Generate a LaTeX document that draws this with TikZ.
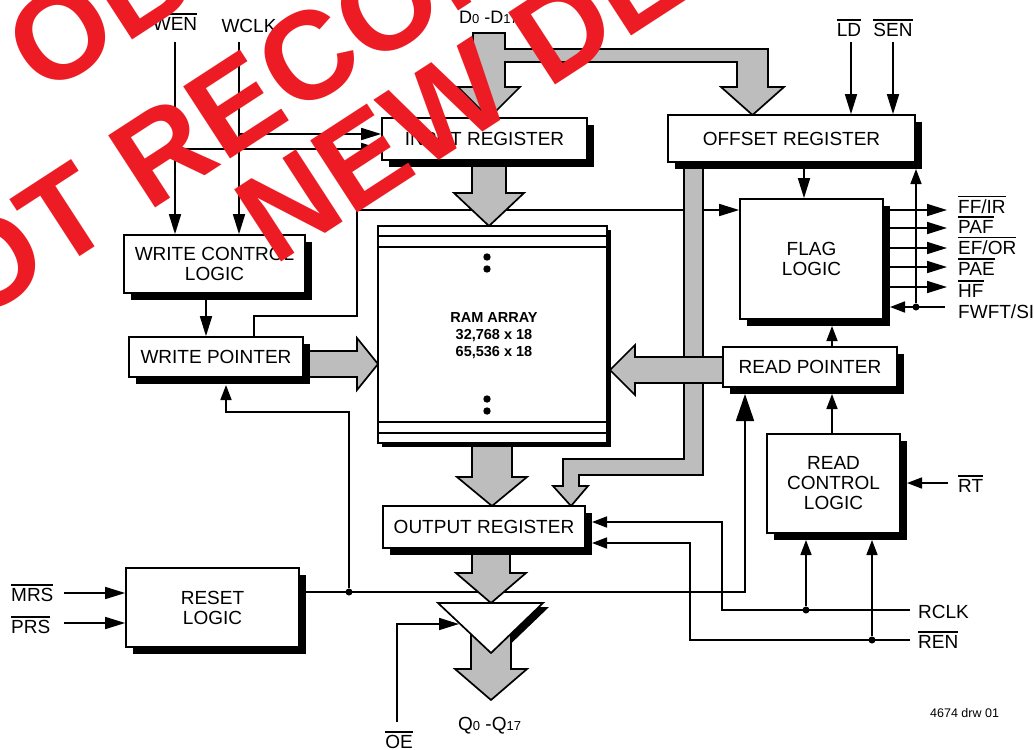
\documentclass[tikz,border=0pt]{standalone}
\usepackage{fontspec}
\setmainfont{Liberation Sans}
\usetikzlibrary{arrows.meta,shadows}
\definecolor{wm}{RGB}{237,28,36}
\definecolor{busgray}{gray}{0.74}
\newcommand{\ovl}[1]{\vbox{\hrule height 1.3pt\kern 2.2pt\hbox{#1}}}
\newcommand{\sdig}[1]{{\fontsize{13}{13}\selectfont #1}}
\pgfdeclarelayer{under}
\pgfdeclarelayer{buslayer}
\pgfsetlayers{under,buslayer,main}
\begin{document}
\begin{tikzpicture}[x=1pt,y=-1pt,
  boxbase/.style={draw, fill=white, line width=1.7pt, inner sep=0pt, align=center,
    font=\fontsize{19}{20}\selectfont},
  box/.style={boxbase, drop shadow={shadow xshift=7pt, shadow yshift=-7pt, fill=black, opacity=1}},
  wire/.style={line width=1.7pt},
  arr/.style={wire, -{Triangle[length=20pt,width=12pt]}},
  arrs/.style={wire, -{Triangle[length=15pt,width=11pt]}},
  bigarr/.style={wire, -{Triangle[length=27pt,width=18pt]}},
  bus/.style={draw, line width=1.7pt, fill=busgray, line join=miter},
  lab/.style={font=\fontsize{19}{20}\selectfont, inner sep=0pt},
  jdot/.style={circle, fill=black, inner sep=0pt, minimum size=7pt},
  wmark/.style={text=wm, font=\bfseries\fontsize{125}{125}\selectfont, inner sep=0pt}]

\useasboundingbox (0,0) rectangle (1034,750);

% ---------------- boxes ----------------
\node[box, minimum width=205pt, minimum height=42pt] (inreg) at (484.5,139) {INPUT REGISTER};
\node[box, minimum width=247pt, minimum height=47pt] (offreg) at (791.5,138.5) {OFFSET REGISTER};
\node[box, minimum width=143pt, minimum height=120pt] (flag) at (811.5,259) {FLAG\\LOGIC};
\node[box, minimum width=174pt, minimum height=40pt] (rdptr) at (810,367) {READ POINTER};
\node[box, minimum width=133pt, minimum height=99pt] (rdctl) at (833.5,483.5) {READ\\CONTROL\\LOGIC};
\node[box, minimum width=181pt, minimum height=58pt] (wrctl) at (214.5,264) {WRITE CONTROL\\LOGIC};
\node[box, minimum width=174pt, minimum height=40pt] (wrptr) at (216,357) {WRITE POINTER};
\node[boxbase, drop shadow={shadow xshift=4pt, shadow yshift=-4pt, fill=black, opacity=1},
      minimum width=229pt, minimum height=217pt] (ram) at (492.5,334.5) {};
\node[box, minimum width=202pt, minimum height=42pt] (outreg) at (484,527) {OUTPUT REGISTER};
\node[box, minimum width=173pt, minimum height=79pt] (reset) at (212.5,607.5) {RESET\\LOGIC};

% RAM array details
\foreach \yy in {236,247,422,433}
  \draw[wire] (ram.west |- 0,\yy) -- (ram.east |- 0,\yy);
\foreach \yy in {257,269,399,411}
  \fill (487,\yy) circle (3.7);
\node[font=\bfseries\fontsize{14.5}{17}\selectfont, align=center, inner sep=0pt] (ramtxt) at (494,336)
  {RAM ARRAY\\32,768 x 18\\65,536 x 18};

% ---------------- labels ----------------
\node[lab, anchor=base] (wenL) at (175,30) {\ovl{WEN}};
\node[lab, anchor=base] (wclkL) at (249,32) {WCLK};
\node[lab, anchor=base west, font=\fontsize{18}{18}\selectfont] (dL) at (459,23) {D\sdig{0} -D\sdig{17}};
\node[lab, anchor=base] (ldL) at (849,36) {\ovl{LD}};
\node[lab, anchor=base] (senL) at (893,36) {\ovl{SEN}};
\node[lab, anchor=base west] (ffL) at (958,213) {\ovl{FF/IR}};
\node[lab, anchor=base west] (pafL) at (958,233) {\ovl{PAF}};
\node[lab, anchor=base west] (efL) at (958,254) {\ovl{EF/OR}};
\node[lab, anchor=base west] (paeL) at (958,275) {\ovl{PAE}};
\node[lab, anchor=base west] (hfL) at (958,297) {\ovl{HF}};
\node[lab, anchor=base west] (fwL) at (958,318) {FWFT/SI};
\node[lab, anchor=base west] (rtL) at (958,492) {\ovl{RT}};
\node[lab, anchor=base west] (rclkL) at (918,618) {RCLK};
\node[lab, anchor=base west] (renL) at (918,648) {\ovl{REN}};
\node[lab, anchor=base west] (mrsL) at (11,601) {\ovl{MRS}};
\node[lab, anchor=base west] (prsL) at (11,633) {\ovl{PRS}};
\node[lab, anchor=base] (oeL) at (399,748) {\ovl{OE}};
\node[lab, anchor=base west] (qL) at (458,730) {Q\sdig{0} -Q\sdig{17}};
\node[lab, anchor=base west, font=\fontsize{12.5}{13}\selectfont] (drw) at (930,717) {4674 drw 01};

% ---------------- wires under buses ----------------
\begin{pgfonlayer}{under}
\draw[arr] (wrptr.north -| 254,0) |- (357,316) |- (flag.west |- 0,210);
\draw[bigarr] (reset.east |- 0,592) -| (745,394);
\end{pgfonlayer}

% ---------------- buses ----------------
\begin{pgfonlayer}{buslayer}
\draw[bus] (473,33) -- (505,33) -- (505,49) -- (768,49) -- (768,87) -- (784,87) -- (752.5,115)
  -- (721,87) -- (737,87) -- (737,62) -- (505,62) -- (505,87) -- (520,87) -- (489,118)
  -- (458,87) -- (473,87) -- cycle;
\draw[bus] (472,160) -- (506,160) -- (506,193) -- (524,193) -- (489,226) -- (454,193) -- (472,193) -- cycle;
\draw[bus] (472,443) -- (512,443) -- (512,477) -- (527,477) -- (492,506) -- (457,477) -- (472,477) -- cycle;
\draw[bus] (472,548) -- (510,548) -- (510,573) -- (526,573) -- (491,603) -- (456,573) -- (472,573) -- cycle;
\draw[bus] (303,351) -- (357,351) -- (357,338) -- (378,364) -- (357,390) -- (357,377) -- (303,377) -- cycle;
\draw[bus] (684,165) -- (703,165) -- (703,475) -- (579,475) -- (579,486) -- (588,486) -- (571,506)
  -- (553,486) -- (563,486) -- (563,459) -- (684,459) -- cycle;
\draw[bus] (723,357) -- (635,357) -- (635,345) -- (610,370) -- (635,395) -- (635,383) -- (723,383) -- cycle;
% output buffer
\fill[black] (444,607) -- (549,607) -- (497,657) -- cycle;
\draw[bus] (471,625) -- (511,625) -- (511,669) -- (527,669) -- (491,700) -- (455,669) -- (471,669) -- cycle;
\draw[line width=1.7pt, fill=white, line join=miter] (438,603) -- (543,603) -- (491,653) -- cycle;
\end{pgfonlayer}
\coordinate (oeTip) at (459,624);

% ---------------- wires ----------------
\coordinate (wenT) at (175,42);
\coordinate (wclkT) at (239,42);
\draw[arr] (wenT) -- (wenT |- wrctl.north);
\draw[arr] (wclkT) -- (wclkT |- wrctl.north);
\draw[arr] (wclkT |- 0,134) -- (inreg.west |- 0,134);
\draw[arr] (wenT |- 0,149) -- (inreg.west |- 0,149);
\draw[arr] (wrctl.south -| 206,0) -- (wrptr.north -| 206,0);

\node[jdot] (rdot) at (349,592) {};
\draw[arrs] (rdot) |- (226,412) -- (226,385);

\coordinate (oeB) at (397,722);
\draw[arr] (oeB) |- (oeTip);

\coordinate (rclkR) at (910,610);
\coordinate (renR) at (910,640);
\draw[arrs] (rclkR) -| (722,522) -- (592,522);
\draw[arrs] (renR) -| (690,543) -- (592,543);
\node[jdot] (rcdot) at (806,610) {};
\node[jdot] (rndot) at (872,640) {};
\draw[arrs] (rcdot) -- (806,540);
\draw[arrs] (rndot) -- (872,540);
\draw[arrs] (948,483) -- (907,483);

\draw[arrs] (rdctl.north -| 832,0) -- (832,394);
\draw[arrs] (rdptr.north -| 832,0) -- (832,326);
\draw[arr] (804,169) -- (flag.north -| 804,0);
\draw[arr] (851,42) -- (offreg.north -| 851,0);
\draw[arr] (893,42) -- (offreg.north -| 893,0);

\foreach \yy in {210,228,248,267,287}
  \draw[arr] (890,\yy) -- (947,\yy);
\node[jdot] (fdot) at (916,307) {};
\draw[arrs] (945,307) -- (890,307);
\draw[arrs] (fdot) -- (916,169);

\draw[arr] (64,593) -- (reset.west |- 0,593);
\draw[arr] (64,623) -- (reset.west |- 0,623);

% ---------------- watermark ----------------
\begin{scope}
\clip (0,0) rectangle (1034,750);
\node[wmark, anchor=base west, rotate=33] (wm1) at (43.6,98) {OBSOLETE};
\node[wmark, anchor=base west, rotate=33] (wm2) at (-102.2,375) {NOT RECOMMENDED FOR};
\node[wmark, anchor=base west, rotate=33] (wm3) at (274.6,267.1) {NEW DESIGNS};
\end{scope}
\end{tikzpicture}
\end{document}
